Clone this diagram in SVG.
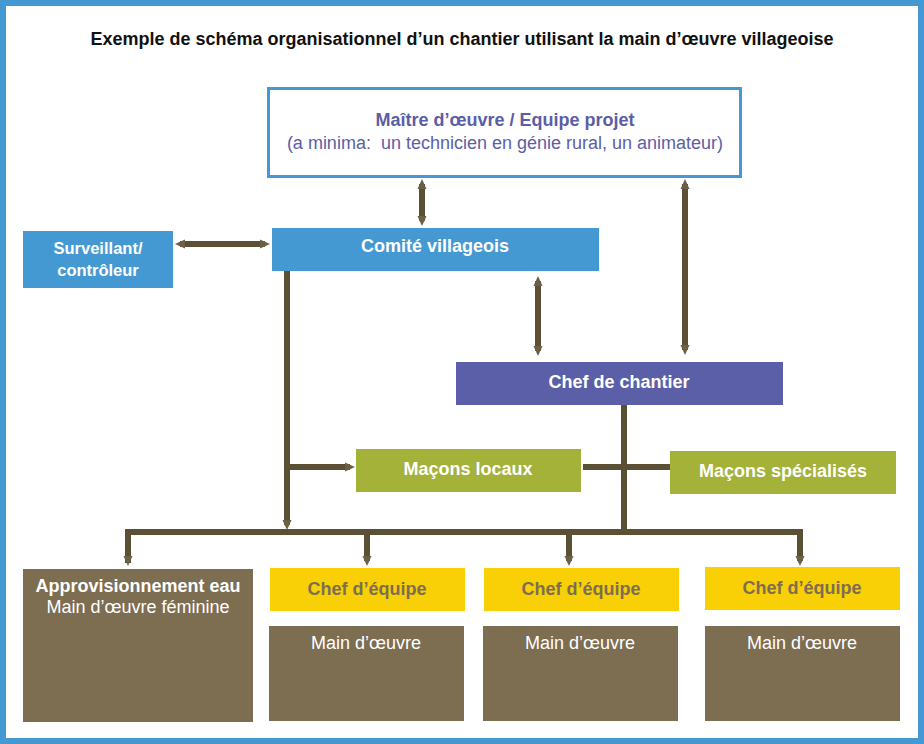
<svg xmlns="http://www.w3.org/2000/svg" width="924" height="744" viewBox="0 0 924 744">
<style>
text{font-family:"Liberation Sans",Arial,sans-serif;text-anchor:middle;white-space:pre}
.b{font-weight:bold}
.w{fill:#ffffff}
.blue{fill:#4599d3}
.conn{stroke:#5a5033;stroke-width:6;fill:none}
.brown{fill:#7d6e52}
.yel{fill:#f9cf05}
</style>
<defs>
<marker id="ah" viewBox="0 0 10 10" refX="5" refY="5" markerUnits="userSpaceOnUse" markerWidth="10" markerHeight="10" orient="auto-start-reverse">
<path d="M0,0.5 L10,5 L0,9.5 z" fill="#6b5f45"/>
</marker>
</defs>
<rect x="3" y="3" width="918" height="738" fill="#ffffff" stroke="#4599d3" stroke-width="6"/>
<text x="462" y="45" class="b" font-size="18" fill="#111">Exemple de schéma organisationnel d’un chantier utilisant la main d’œuvre villageoise</text>
<g id="connectors">
<path class="conn" d="M422,184 V221" marker-start="url(#ah)" marker-end="url(#ah)"/>
<path class="conn" d="M685,184 V350" marker-end="url(#ah)" marker-start="url(#ah)"/>
<path class="conn" d="M180,244 H265" marker-start="url(#ah)" marker-end="url(#ah)"/>
<path class="conn" d="M538,281 V351" marker-start="url(#ah)" marker-end="url(#ah)"/>
<path class="conn" d="M287,271 V525" marker-end="url(#ah)"/>
<path class="conn" d="M287,467 H350" marker-end="url(#ah)"/>
<path class="conn" d="M624,405 V532"/>
<path class="conn" d="M583,467 H670"/>
<path class="conn" d="M128,563 V532 H800 V561" marker-end="url(#ah)"/>
<path class="conn" d="M128,532 V561" marker-end="url(#ah)"/>
<path class="conn" d="M367,532 V561" marker-end="url(#ah)"/>
<path class="conn" d="M569,532 V561" marker-end="url(#ah)"/>
</g>
<g id="maitre">
<rect x="268.5" y="88.5" width="472" height="88" fill="#ffffff" stroke="#4599d3" stroke-width="3"/>
<text x="505" y="126" class="b" font-size="18" fill="#5b5ea6">Maître d’œuvre / Equipe projet</text>
<text x="505" y="149" font-size="18" fill="#5b5ea6">(a minima:  un technicien en génie rural, un animateur)</text>
</g>
<g id="comite">
<rect x="272" y="228" width="327" height="43" class="blue"/>
<text x="435" y="252" class="b w" font-size="18">Comité villageois</text>
</g>
<g id="surveillant">
<rect x="23" y="231" width="150" height="57" class="blue"/>
<text x="98" y="254" class="b w" font-size="16.5">Surveillant/</text>
<text x="98" y="276" class="b w" font-size="16.5">contrôleur</text>
</g>
<g id="chefchantier">
<rect x="456" y="362" width="327" height="43" fill="#5b5fa8"/>
<text x="619" y="388" class="b w" font-size="18">Chef de chantier</text>
</g>
<g id="maconslocaux">
<rect x="356" y="449" width="225" height="43" fill="#a4b23a"/>
<text x="468" y="475" class="b w" font-size="18">Maçons locaux</text>
</g>
<g id="maconsspec">
<rect x="670" y="451" width="226" height="43" fill="#a4b23a"/>
<text x="783" y="477" class="b w" font-size="18">Maçons spécialisés</text>
</g>
<g id="appro">
<rect x="23" y="569" width="230" height="153" class="brown"/>
<text x="138" y="592" class="b w" font-size="18">Approvisionnement eau</text>
<text x="138" y="613" class="w" font-size="18">Main d’œuvre féminine</text>
</g>
<g id="chef1">
<rect x="270" y="568" width="195" height="43" class="yel"/>
<text x="367" y="595" class="b" font-size="18" fill="#7d6e52">Chef d’équipe</text>
</g>
<g id="main1">
<rect x="269" y="626" width="195" height="95" class="brown"/>
<text x="366" y="649" class="w" font-size="18">Main d’œuvre</text>
</g>
<g id="chef2">
<rect x="484" y="568" width="195" height="43" class="yel"/>
<text x="581" y="595" class="b" font-size="18" fill="#7d6e52">Chef d’équipe</text>
</g>
<g id="main2">
<rect x="483" y="626" width="195" height="95" class="brown"/>
<text x="580" y="649" class="w" font-size="18">Main d’œuvre</text>
</g>
<g id="chef3">
<rect x="705" y="567" width="195" height="43" class="yel"/>
<text x="802" y="594" class="b" font-size="18" fill="#7d6e52">Chef d’équipe</text>
</g>
<g id="main3">
<rect x="705" y="626" width="195" height="95" class="brown"/>
<text x="802" y="649" class="w" font-size="18">Main d’œuvre</text>
</g>
</svg>
